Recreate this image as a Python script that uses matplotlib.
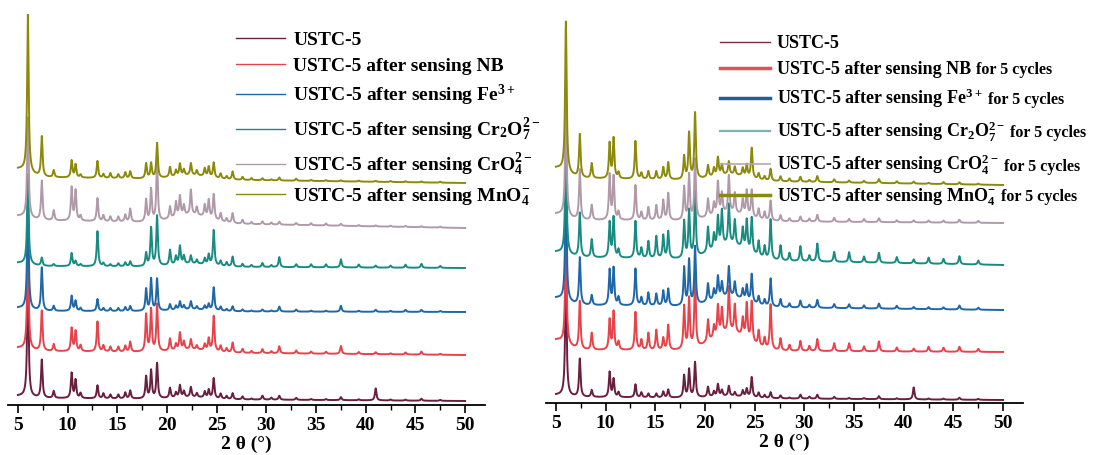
import numpy as np
import matplotlib
matplotlib.use("Agg")
import matplotlib.pyplot as plt
from matplotlib.ticker import MultipleLocator

plt.rcParams.update({
    'font.family': 'Liberation Serif',
    'font.weight': 'bold',
    'mathtext.fontset': 'custom',
    'mathtext.rm': 'Liberation Serif:bold',
    'mathtext.it': 'Liberation Serif:bold',
    'mathtext.bf': 'Liberation Serif:bold',
})

# Reflection positions (2 theta, deg) shared by all patterns
PEAK_POS = [6.0, 7.4, 8.6, 10.4, 10.8, 11.3, 13.0, 13.6, 14.3, 15.1, 15.8, 16.3,
            17.9, 18.4, 19.0, 20.3, 20.9, 21.3, 21.7, 22.4, 23.0, 23.8, 24.2, 24.7,
            25.4, 26.0, 26.6, 27.6, 28.5, 29.6, 30.5, 31.3, 33.0, 34.5, 36.0, 37.5,
            39.3, 41.0, 42.5, 44.0, 45.6, 47.5]

# peak heights (arbitrary units)
H_USTC5 = [120, 38, 7, 25, 18, 5, 13, 5, 4, 4, 6, 8, 22, 28, 35, 10, 5, 12, 6, 10, 4, 6, 8, 20,
           5, 3, 6, 3, 1, 4, 2, 4, 2, 1, 1, 3, 1, 12, 1, 1, 2, 1]
H_NB = [110, 40, 7, 23, 20, 6, 30, 6, 5, 5, 6, 10, 37, 42, 47, 12, 6, 17, 8, 10, 4, 6, 12, 35,
        6, 4, 10, 4, 2, 4, 2, 7, 3, 2, 2, 8, 2, 2, 1, 2, 3, 1]
H_FE = [110, 43, 5, 15, 10, 3, 12, 3, 3, 3, 4, 5, 22, 32, 32, 6, 4, 8, 4, 8, 3, 4, 6, 23,
        4, 2, 5, 2, 1, 2, 1, 5, 2, 1, 1, 6, 1, 2, 1, 2, 2, 1]
H_CR2O7 = [90, 8, 2, 13, 5, 2, 35, 3, 2, 3, 4, 5, 13, 38, 50, 15, 8, 18, 8, 8, 4, 6, 10, 35,
           5, 4, 10, 3, 2, 4, 2, 10, 3, 3, 3, 8, 3, 2, 2, 3, 4, 2]
H_CRO4 = [100, 39, 10, 33, 30, 5, 23, 6, 5, 5, 7, 13, 22, 32, 60, 12, 15, 20, 10, 25, 8, 12, 18, 25,
          8, 4, 10, 4, 2, 3, 2, 3, 2, 2, 2, 2, 1, 1, 1, 1, 1, 1]
H_MNO4 = [157, 40, 7, 17, 13, 3, 17, 4, 5, 4, 6, 7, 15, 15, 35, 10, 6, 12, 6, 12, 5, 8, 10, 15,
          5, 3, 8, 3, 2, 2, 1, 3, 2, 1, 1, 1, 1, 1, 1, 1, 1, 1]

H_NB_5C = [110, 48, 17, 30, 38, 8, 38, 10, 17, 20, 12, 25, 43, 50, 70, 22, 12, 30, 25, 45, 28, 18, 35, 40,
           15, 10, 45, 12, 6, 10, 5, 12, 8, 8, 5, 10, 4, 3, 5, 4, 5, 3]
H_FE_5C = [120, 47, 10, 35, 37, 8, 37, 8, 13, 12, 15, 17, 38, 45, 58, 18, 10, 22, 15, 30, 15, 10, 15, 28,
           8, 6, 28, 8, 4, 7, 3, 8, 4, 4, 3, 5, 3, 2, 2, 2, 4, 2]
H_CR2O7_5C = [115, 44, 18, 35, 40, 8, 37, 10, 17, 22, 23, 27, 37, 47, 65, 25, 15, 30, 35, 40, 25, 20, 30, 35,
              15, 12, 40, 15, 8, 15, 6, 18, 10, 10, 6, 10, 6, 4, 6, 5, 8, 4]
H_CRO4_5C = [120, 50, 15, 45, 43, 8, 35, 8, 13, 15, 20, 27, 33, 45, 60, 18, 12, 32, 20, 37, 20, 15, 25, 27,
             10, 8, 20, 6, 3, 5, 3, 7, 4, 3, 3, 4, 2, 2, 2, 2, 3, 2]
H_MNO4_5C = [150, 43, 15, 35, 40, 6, 38, 6, 8, 8, 12, 17, 23, 46, 66, 12, 8, 18, 10, 13, 8, 8, 12, 30,
             6, 4, 12, 5, 3, 5, 2, 6, 3, 2, 2, 4, 2, 2, 1, 2, 2, 1]

# background: (level at 50 deg / stacking offset, tilt, low-angle rise, amorphous hump)
BG_LEFT = [(4, 3, 2, 2), (50, 4, 3, 3), (93, 1, 3, 2), (137, 2, 3, 3), (177, 8, 4, 8), (222, 6, 8, 4)]
BG_RIGHT = [(3, 3, 2, 2), (51, 2, 10, 18), (93, 5, 7, 10), (138, 8, 5, 15), (180, 3, 6, 8), (218, 7, 10, 6)]

LEFT_LABELS = ['USTC-5',
               'USTC-5 after sensing NB',
               r'USTC-5 after sensing Fe$^{3+}$',
               r'USTC-5 after sensing Cr$_2$O$_7^{2-}$',
               r'USTC-5 after sensing CrO$_4^{2-}$',
               r'USTC-5 after sensing MnO$_4^{-}$']
RIGHT_SUFFIX = 'for 5 cycles'

COLORS = ['#6B1F3F', '#E8434B', '#1F67A8', '#198C82', '#B09AAA', '#8C8A0A']
RIGHT_HANDLE_COLORS = ['#7A2A45', '#D9545C', '#1F5F9A', '#7AB2B5', '#B5A5B0', '#8C8A0A']
RIGHT_HANDLE_WIDTHS = [1.0, 2.5, 2.5, 1.6, 1.2, 2.5]

TWO_THETA = np.arange(5.0, 50.0001, 0.02)


def pattern(heights, bg):
    level, tilt, low, hump = bg
    y = (level + tilt * (50 - TWO_THETA) / 45
         + low * np.exp(-((TWO_THETA - 5) / 1.5) ** 2)
         + hump * np.exp(-((TWO_THETA - 22.5) / 2.5) ** 2))
    hw = 0.09
    for pos, h in zip(PEAK_POS, heights):
        y = y + h * hw ** 2 / ((TWO_THETA - pos) ** 2 + hw ** 2)
    return y


def style_axis(ax, ytop):
    ax.set_xlim(4, 52)
    ax.set_ylim(0, ytop)
    for side in ['top', 'right', 'left']:
        ax.spines[side].set_visible(False)
    ax.spines['bottom'].set_linewidth(1.3)
    ax.set_yticks([])
    ax.xaxis.set_major_locator(MultipleLocator(5))
    ax.xaxis.set_minor_locator(MultipleLocator(2.5))
    ax.set_xticks(np.arange(5, 51, 5))
    ax.tick_params(axis='x', which='major', length=6, width=1.2, labelsize=14, pad=3)
    ax.tick_params(axis='x', which='minor', length=3.5, width=1.0)
    ax.set_xlabel('2 θ (°)', fontsize=14, fontweight='bold', labelpad=1)


fig = plt.figure(figsize=(11.03, 4.55), dpi=100)
ax1 = fig.add_axes([8 / 1103, 50 / 455, 477 / 1103, 400 / 455])
ax2 = fig.add_axes([546 / 1103, 52 / 455, 477 / 1103, 398 / 455])

left_sets = [H_USTC5, H_NB, H_FE, H_CR2O7, H_CRO4, H_MNO4]
right_sets = [H_USTC5, H_NB_5C, H_FE_5C, H_CR2O7_5C, H_CRO4_5C, H_MNO4_5C]

for h, bg, c, lab in zip(left_sets, BG_LEFT, COLORS, LEFT_LABELS):
    ax1.plot(TWO_THETA, pattern(h, bg), color=c, lw=1.4, label=lab)
for h, bg, c, lab in zip(right_sets, BG_RIGHT, COLORS, LEFT_LABELS):
    ax2.plot(TWO_THETA, pattern(h, bg), color=c, lw=1.4, label=lab)

style_axis(ax1, 400)
style_axis(ax2, 398)

leg1 = ax1.legend(loc='upper left', bbox_to_anchor=(0.478, 0.935), frameon=False,
                  fontsize=14, handlelength=2.5, handletextpad=0.45, labelspacing=0.43,
                  borderpad=0, borderaxespad=0)
for hnd in leg1.legend_handles:
    hnd.set_linewidth(1.0)

leg2 = ax2.legend(loc='upper left', bbox_to_anchor=(0.365, 0.925), frameon=False,
                  fontsize=13, handlelength=2.75, handletextpad=0.4, labelspacing=0.5,
                  borderpad=0, borderaxespad=0)
for hnd, c, w in zip(leg2.legend_handles, RIGHT_HANDLE_COLORS, RIGHT_HANDLE_WIDTHS):
    hnd.set_color(c)
    hnd.set_linewidth(w)

# smaller "for 5 cycles" tail after each treated-sample entry, sitting on the
# same baseline (placed once the legend has been laid out)
fig.canvas.draw()
renderer = fig.canvas.get_renderer()
W, H = fig.canvas.get_width_height()
for txt in leg2.get_texts()[1:]:
    bb = txt.get_window_extent(renderer)
    descent = txt._get_layout(renderer)[2]
    fig.text((bb.x1 + 5) / W, (bb.y0 + descent) / H, RIGHT_SUFFIX, ha='left', va='baseline',
             fontsize=11.5, fontweight='bold')

fig.savefig('out.png', dpi=100)
